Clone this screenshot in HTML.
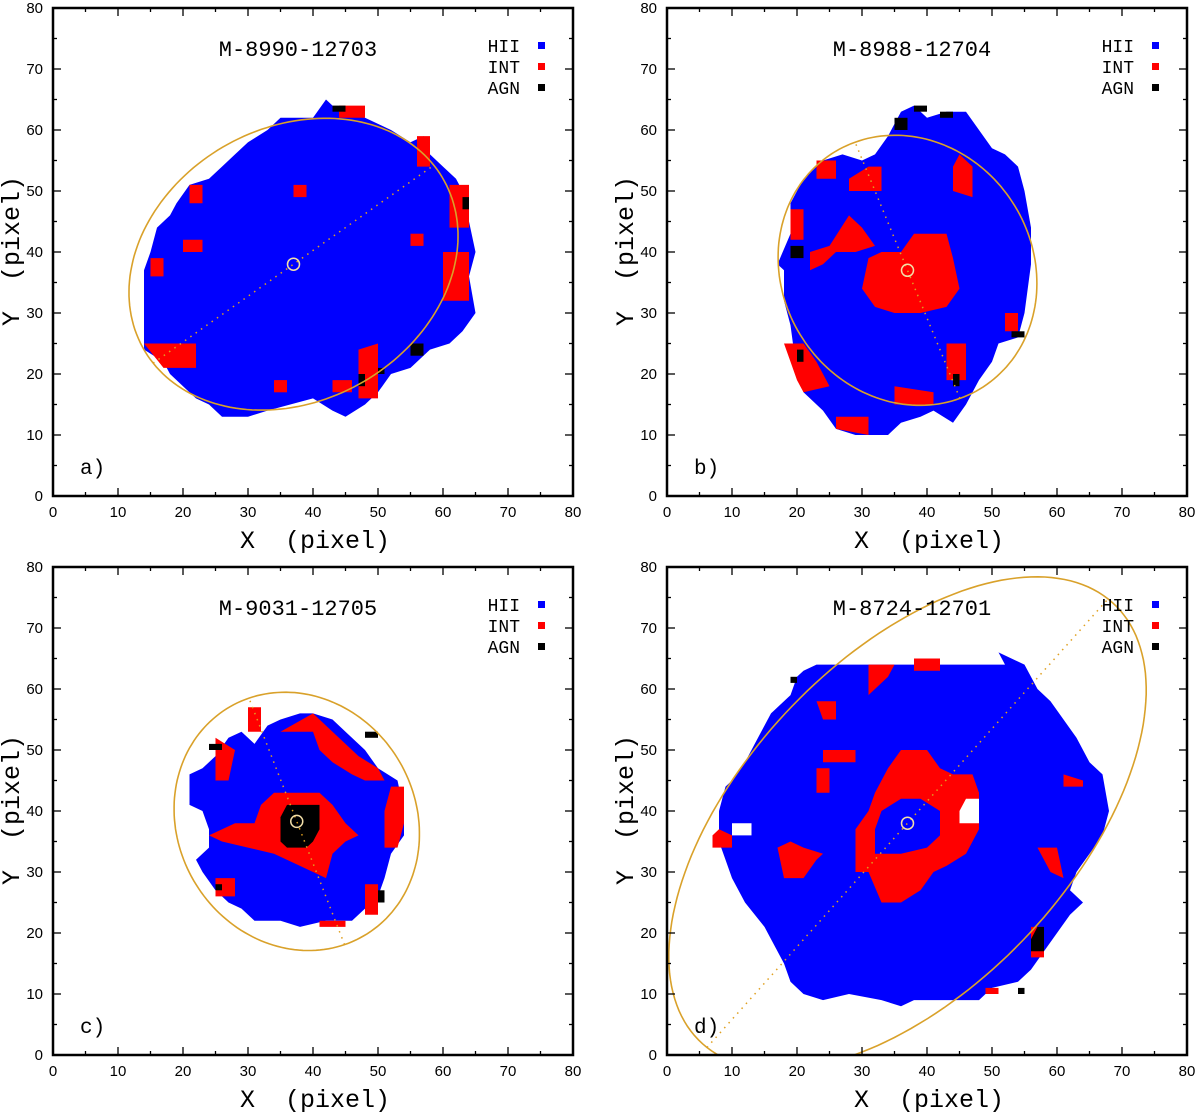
<!DOCTYPE html>
<html><head><meta charset="utf-8"><style>
html,body{margin:0;padding:0;background:#fff;}
svg{display:block;}
text{font-family:"Liberation Sans",sans-serif;}
.mono{font-family:"Liberation Mono","DejaVu Sans Mono",monospace;white-space:pre;}
</style></head><body>
<svg id="fig" width="1200" height="1114" viewBox="0 0 1200 1114" xmlns="http://www.w3.org/2000/svg"></svg>
<script>
const ticks=[0,10,20,30,40,50,60,70,80];
const panelNames=["M-8990-12703","M-8988-12704","M-9031-12705","M-8724-12701"];
const panelLetters=["a)","b)","c)","d)"];
const legendLabels=["HII","INT","AGN"];
const legendColors=["#0000ff","#ff0000","#000000"];
// blob outlines (data coords)
const hiiA=[[14,37],[15,40],[16,44],[18,46],[19,48],[21,51],[24,52],[26,54],[28,56],[30,58],[33,60],[35,62],[40,62],[42,65],[44,63],[48,62],[50,61],[52,60],[55,58],[57,59],[58,56],[60,54],[62,52],[63,50],[64,45],[65,40],[64,36],[65,30],[63,27],[61,25],[58,24],[55,21],[52,20],[50,17],[48,15],[45,13],[43,14],[40,16],[33,14],[30,13],[26,13],[24,15],[22,16],[20,18],[18,20],[17,22],[14,24],[14,30]];
const intA=[[[14,25],[22,25],[22,21],[17,21]],[[47,16],[50,16],[50,25],[47,24]],[[60,40],[64,40],[64,32],[60,32]],[[61,44],[64,44],[64,51],[61,51]],[[15,36],[17,36],[17,39],[15,39]],[[20,40],[23,40],[23,42],[20,42]],[[21,48],[23,48],[23,51],[21,51]],[[44,62],[48,62],[48,64],[44,64]],[[56,54],[58,54],[58,59],[56,59]],[[55,41],[57,41],[57,43],[55,43]],[[37,49],[39,49],[39,51],[37,51]],[[43,17],[46,17],[46,19],[43,19]],[[34,17],[36,17],[36,19],[34,19]]];
const agnA=[[[43,63],[45,63],[45,64],[43,64]],[[55,23],[57,23],[57,25],[55,25]],[[63,47],[64,47],[64,49],[63,49]],[[47,18],[48,18],[48,20],[47,20]],[[50,20],[51,20],[51,21],[50,21]]];
const hiiB=[[17,38],[19,43],[19,48],[21,52],[24,55],[27,56],[30,55],[32,56],[34,59],[36,63],[38,64],[40,62],[43,63],[46,63],[48,60],[50,57],[52,56],[54,54],[55,50],[56,44],[56,38],[55,30],[54,26],[51,25],[50,22],[48,19],[46,15],[44,12],[41,14],[39,13],[36,12],[34,10],[31,10],[29,10],[26,11],[24,14],[21,17],[20,20],[19,28],[18,32],[18,37]];
const intB=[[[30,34],[31,39],[33,40],[36,40],[38,43],[43,43],[44,39],[45,34],[43,31],[39,30],[35,30],[32,31]],[[22,40],[25,41],[28,46],[30,44],[32,41],[29,40],[26,40],[24,38],[22,37]],[[18,25],[21,25],[23,22],[25,18],[21,17],[20,19],[19,22]],[[26,11],[31,10],[31,13],[26,13]],[[28,50],[33,50],[33,54],[31,54],[28,52]],[[44,50],[47,49],[47,54],[45,56],[44,54]],[[43,19],[46,19],[46,25],[43,25]],[[35,15],[41,15],[41,17],[35,18]],[[52,27],[54,27],[54,30],[52,30]],[[19,42],[21,42],[21,47],[19,47]],[[23,52],[26,52],[26,55],[23,55]]];
const agnB=[[[19,39],[21,39],[21,41],[19,41]],[[35,60],[37,60],[37,62],[35,62]],[[38,63],[40,63],[40,64],[38,64]],[[44,18],[45,18],[45,20],[44,20]],[[53,26],[55,26],[55,27],[53,27]],[[20,22],[21,22],[21,24],[20,24]],[[42,62],[44,62],[44,63],[42,63]]];
const hiiC=[[21,41],[21,46],[23,47],[25,49],[27,52],[29,53],[31,51],[33,54],[35,55],[38,56],[40,56],[43,55],[45,53],[48,50],[50,47],[53,45],[54,40],[54,36],[52,33],[51,29],[50,26],[48,24],[46,22],[42,22],[38,21],[35,22],[31,22],[29,24],[27,25],[25,27],[23,30],[22,32],[24,34],[24,37],[23,40]];
const intC=[[[24,36],[28,38],[31,38],[32,41],[34,43],[41,43],[43,41],[45,38],[47,36],[45,35],[43,33],[42,29],[38,31],[34,33],[30,34],[26,35]],[[35,53],[40,56],[43,53],[47,49],[50,47],[51,45],[48,45],[46,46],[43,48],[41,50],[40,53]],[[51,34],[53,34],[54,38],[54,44],[52,44],[51,40]],[[25,45],[27,45],[28,50],[25,52]],[[48,23],[50,23],[50,28],[48,28]],[[30,53],[32,53],[32,57],[30,57]],[[25,26],[28,26],[28,29],[25,29]],[[41,21],[45,21],[45,22],[41,22]]];
const agnC=[[[35,35],[36,34],[39,34],[40,35],[41,37],[41,41],[39,41],[36,41],[35,39]],[[25,27],[26,27],[26,28],[25,28]],[[48,52],[50,52],[50,53],[48,53]],[[50,25],[51,25],[51,27],[50,27]],[[24,50],[26,50],[26,51],[24,51]]];
const hiiD=[[8,40],[9,44],[10,45],[12,48],[14,52],[16,56],[19,59],[20,62],[21,63],[23,64],[52,64],[51,66],[55,64],[57,60],[59,58],[61,55],[63,52],[65,48],[67,46],[68,40],[67,36],[65,33],[63,30],[62,27],[64,25],[62,23],[60,20],[58,17],[56,14],[54,12],[50,11],[48,9],[44,9],[41,9],[38,9],[36,8],[33,9],[28,10],[24,9],[21,10],[19,12],[18,15],[16,19],[15,21],[12,25],[10,29],[9,32],[8,35]];
const intD=[[[29,30],[31,30],[33,25],[36,25],[39,27],[41,30],[43,31],[46,33],[48,37],[48,43],[47,46],[44,46],[42,47],[40,50],[36,50],[34,47],[32,43],[31,40],[29,37]],[[18,29],[21,29],[23,32],[24,33],[21,34],[19,35],[17,34]],[[7,34],[10,34],[10,36],[8,37],[7,36]],[[23,58],[26,58],[26,55],[24,55]],[[31,59],[34,62],[35,64],[31,64]],[[38,63],[42,63],[42,65],[38,65]],[[56,34],[60,34],[61,29],[59,30],[57,34]],[[61,46],[64,45],[64,44],[61,44]],[[23,43],[25,43],[25,47],[23,47]],[[24,48],[29,48],[29,50],[24,50]],[[56,16],[58,16],[58,21],[56,21]],[[49,10],[51,10],[51,11],[49,11]]];
const innerD=[[32,33],[36,33],[40,34],[42,36],[42,40],[39,42],[36,42],[33,40],[32,37]];
const holeD=[[[45,38],[48,38],[48,42],[46,42],[45,40]],[[10,36],[13,36],[13,38],[10,38]]];
const agnD=[[[56,17],[58,17],[58,21],[57,21],[56,19]],[[54,10],[55,10],[55,11],[54,11]],[[19,61],[20,61],[20,62],[19,62]]];
// ellipses: center x, center y, semi-major, semi-minor, angle(deg)
const ellCx=[37,37,37.5,37];
const ellCy=[38,37,38.3,38];
const ellA=[27,22.5,21.5,48];
const ellB=[22,19.5,18.5,26];
const ellAng=[36.9,111,110,50];
const blobs=[[hiiA,intA,agnA,[],null],[hiiB,intB,agnB,[],null],[hiiC,intC,agnC,[],null],[hiiD,intD,agnD,holeD,innerD]];

const NS="http://www.w3.org/2000/svg";
const svg=document.getElementById('fig');
const origins=[[53,496],[667,496],[53,1055],[667,1055]];
const W=520,H=488;
function mk(t,a,p){const e=document.createElementNS(NS,t);for(const k in a)e.setAttribute(k,a[k]);(p||svg).appendChild(e);return e;}
origins.forEach((o,pi)=>{
  const X0=o[0],Y0=o[1];
  const sx=v=>X0+v*W/80, sy=v=>Y0-v*H/80;
  const g=mk('g',{});
  
  
  const clip=mk('clipPath',{id:'c'+pi},g);mk('rect',{x:X0,y:Y0-H,width:W,height:H},clip);
  const plot=mk('g',{'clip-path':'url(#c'+pi+')'},g);
  const poly=(pts,fill,name)=>{const p=mk('polygon',{points:pts.map(q=>sx(q[0]).toFixed(1)+','+sy(q[1]).toFixed(1)).join(' '),fill:fill},plot);};
  const b=blobs[pi];
  poly(b[0],'#0000ff','hii-region');
  b[1].forEach(r=>poly(r,'#ff0000','int-region'));
  if(b[4]) poly(b[4],'#0000ff','hii-inner-region');
  b[3].forEach(h=>poly(h,'#ffffff','no-data-hole'));
  b[2].forEach(r=>poly(r,'#000000','agn-region'));
  const th=ellAng[pi]*Math.PI/180,ux=Math.cos(th),uy=Math.sin(th);
  let pts=[];
  for(let i=0;i<=180;i++){const t=i/180*2*Math.PI;const dx=ellA[pi]*Math.cos(t)*ux-ellB[pi]*Math.sin(t)*uy;const dy=ellA[pi]*Math.cos(t)*uy+ellB[pi]*Math.sin(t)*ux;pts.push(sx(ellCx[pi]+dx).toFixed(1)+','+sy(ellCy[pi]+dy).toFixed(1));}
  const el=mk('polyline',{points:pts.join(' '),fill:'none',stroke:'#d9a12a','stroke-width':1.6},plot);
  
  const ma=mk('line',{x1:sx(ellCx[pi]-ellA[pi]*ux),y1:sy(ellCy[pi]-ellA[pi]*uy),x2:sx(ellCx[pi]+ellA[pi]*ux),y2:sy(ellCy[pi]+ellA[pi]*uy),stroke:'#e0a020','stroke-width':1.5,'stroke-dasharray':'1.5 5'},plot);
  
  const cc=mk('circle',{cx:sx(ellCx[pi]),cy:sy(ellCy[pi]),r:6,fill:'none',stroke:'#f3dfa8','stroke-width':1.5},plot);
  
  const fr=mk('rect',{x:X0,y:Y0-H,width:W,height:H,fill:'none',stroke:'#000','stroke-width':2.5},g);
  
  for(let v=0;v<=80;v+=5){
    const L=v%10==0?8:4;
    mk('line',{x1:sx(v),y1:Y0,x2:sx(v),y2:Y0-L,stroke:'#000','stroke-width':1.3},g);
    mk('line',{x1:sx(v),y1:Y0-H,x2:sx(v),y2:Y0-H+L,stroke:'#000','stroke-width':1.3},g);
    mk('line',{x1:X0,y1:sy(v),x2:X0+L,y2:sy(v),stroke:'#000','stroke-width':1.3},g);
    mk('line',{x1:X0+W,y1:sy(v),x2:X0+W-L,y2:sy(v),stroke:'#000','stroke-width':1.3},g);
  }
  ticks.forEach(v=>{
    const t=mk('text',{x:sx(v),y:Y0+21,'font-size':15,'text-anchor':'middle'},g);t.textContent=v;
    
    const u=mk('text',{x:X0-10,y:sy(v)+5,'font-size':15,'text-anchor':'end'},g);u.textContent=v;
    
  });
  const xt=mk('text',{x:X0+262,y:Y0+52,'font-size':25,'text-anchor':'middle',class:'mono'},g);xt.textContent='X  (pixel)';
  
  const yt=mk('text',{x:0,y:0,'font-size':25,'text-anchor':'middle',class:'mono',transform:'translate('+(X0-34)+','+(Y0-245)+') rotate(-90)'},g);yt.textContent='Y  (pixel)';
  
  const tt=mk('text',{x:X0+245,y:Y0-440,'font-size':22,'text-anchor':'middle',class:'mono'},g);tt.textContent=panelNames[pi];
  
  const lt=mk('text',{x:X0+27,y:Y0-22,'font-size':21,class:'mono'},g);lt.textContent=panelLetters[pi];
  
  legendLabels.forEach((lab,i)=>{
    const ly=Y0-450+i*21;
    const tx=mk('text',{x:X0+467,y:ly+6,'font-size':18,'text-anchor':'end',class:'mono'},g);tx.textContent=lab;
    
    const sq=mk('rect',{x:X0+485,y:ly-4,width:7,height:7,fill:legendColors[i]},g);
    
  });
});
</script>
</body></html>
